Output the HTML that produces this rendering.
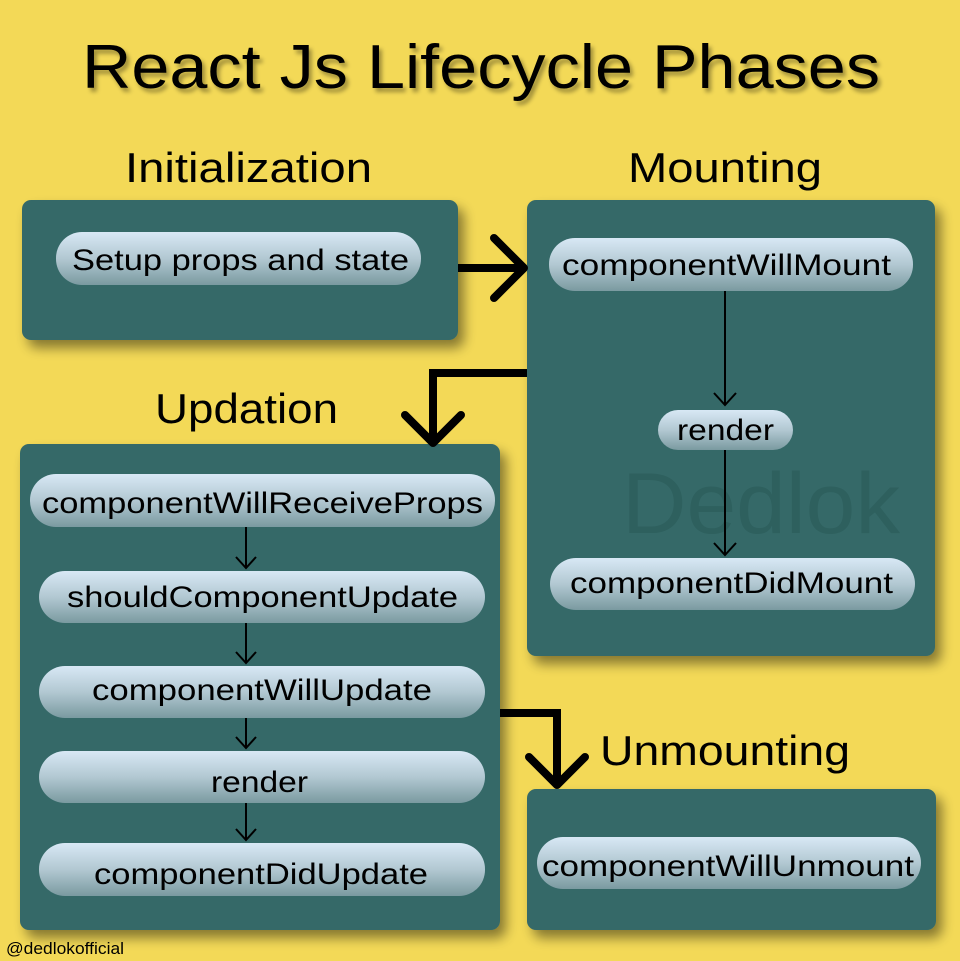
<!DOCTYPE html>
<html><head><meta charset="utf-8"><style>
html,body{margin:0;padding:0;background:#f3d957;}
svg{display:block}
text{font-family:"Liberation Sans",sans-serif;fill:#000}
</style></head><body>
<svg width="960" height="961" viewBox="0 0 960 961" xmlns="http://www.w3.org/2000/svg">
<defs>
<linearGradient id="pg" x1="0" y1="0" x2="0" y2="1">
<stop offset="0" stop-color="#d8e8f5"/>
<stop offset="0.5" stop-color="#b2c8d2"/>
<stop offset="1" stop-color="#7a9aa0"/>
</linearGradient>
<filter id="sh" x="-10%" y="-10%" width="130%" height="130%">
<feGaussianBlur in="SourceAlpha" stdDeviation="6"/>
<feOffset dx="6" dy="8" result="b"/>
<feComponentTransfer><feFuncA type="linear" slope="0.45"/></feComponentTransfer>
<feMerge><feMergeNode/><feMergeNode in="SourceGraphic"/></feMerge>
</filter>
<filter id="ts"><feGaussianBlur in="SourceAlpha" stdDeviation="2"/><feOffset dx="3" dy="4"/><feComponentTransfer><feFuncA type="linear" slope="0.35"/></feComponentTransfer><feMerge><feMergeNode/><feMergeNode in="SourceGraphic"/></feMerge></filter>
</defs>
<rect width="960" height="961" fill="#f3d957"/>
<text x="82" y="88" font-size="62" textLength="798" lengthAdjust="spacingAndGlyphs" filter="url(#ts)">React Js Lifecycle Phases</text>
<text x="125" y="182" font-size="42" textLength="247" lengthAdjust="spacingAndGlyphs">Initialization</text>
<text x="628" y="182" font-size="42" textLength="194" lengthAdjust="spacingAndGlyphs">Mounting</text>
<text x="155" y="423" font-size="42" textLength="183" lengthAdjust="spacingAndGlyphs">Updation</text>
<text x="600" y="765" font-size="42" textLength="250" lengthAdjust="spacingAndGlyphs">Unmounting</text>

<g fill="#356967" filter="url(#sh)">
<rect x="22" y="200" width="436" height="140" rx="9"/>
<rect x="527" y="200" width="408" height="456" rx="9"/>
<rect x="20" y="444" width="480" height="486" rx="9"/>
<rect x="527" y="789" width="409" height="141" rx="9"/>
</g>
<text x="622" y="533" font-size="86" fill="#2d5f5d" style="fill:#2e605e" textLength="278" lengthAdjust="spacingAndGlyphs">Dedlok</text>

<g fill="url(#pg)">
<rect x="56" y="232" width="365" height="53" rx="26"/>
<rect x="549" y="238" width="364" height="53" rx="26"/>
<rect x="658" y="410" width="135" height="40" rx="20"/>
<rect x="550" y="558" width="365" height="52" rx="26"/>
<rect x="30" y="474" width="465" height="53" rx="26"/>
<rect x="39" y="571" width="446" height="52" rx="26"/>
<rect x="39" y="666" width="446" height="52" rx="26"/>
<rect x="39" y="751" width="446" height="52" rx="26"/>
<rect x="39" y="843" width="446" height="53" rx="26"/>
<rect x="537" y="837" width="384" height="52" rx="26"/>
</g>
<g font-size="30">
<text x="72" y="270" textLength="337" lengthAdjust="spacingAndGlyphs">Setup props and state</text>
<text x="562" y="275" textLength="329" lengthAdjust="spacingAndGlyphs">componentWillMount</text>
<text x="677" y="440" textLength="97" lengthAdjust="spacingAndGlyphs">render</text>
<text x="570" y="593" textLength="323" lengthAdjust="spacingAndGlyphs">componentDidMount</text>
<text x="42" y="513" textLength="441" lengthAdjust="spacingAndGlyphs">componentWillReceiveProps</text>
<text x="67" y="607" textLength="391" lengthAdjust="spacingAndGlyphs">shouldComponentUpdate</text>
<text x="92" y="700" textLength="340" lengthAdjust="spacingAndGlyphs">componentWillUpdate</text>
<text x="211" y="792" textLength="97" lengthAdjust="spacingAndGlyphs">render</text>
<text x="94" y="884" textLength="334" lengthAdjust="spacingAndGlyphs">componentDidUpdate</text>
<text x="542" y="876" textLength="372" lengthAdjust="spacingAndGlyphs">componentWillUnmount</text>
</g>

<g stroke="#000" fill="none" stroke-width="2">
<line x1="725" y1="291" x2="725" y2="405"/><polyline points="714,393 725,405 736,393"/>
<line x1="725" y1="450" x2="725" y2="555"/><polyline points="714,543 725,555 736,543"/>
<line x1="246" y1="527" x2="246" y2="568"/><polyline points="236,557 246,568 256,557"/>
<line x1="246" y1="623" x2="246" y2="663"/><polyline points="236,652 246,663 256,652"/>
<line x1="246" y1="718" x2="246" y2="748"/><polyline points="236,737 246,748 256,737"/>
<line x1="246" y1="803" x2="246" y2="840"/><polyline points="236,829 246,840 256,829"/>
</g>
<g stroke="#000" fill="none" stroke-width="8" stroke-linecap="round" stroke-linejoin="miter">
<line x1="458" y1="268" x2="522" y2="268" stroke-linecap="butt"/>
<polyline points="494,238 524,268 494,298" stroke-linejoin="round"/>
<polyline points="527,373 433,373 433,440" stroke-linecap="butt"/>
<polyline points="405,415 433,443 461,415" stroke-linejoin="round"/>
<polyline points="500,713 557,713 557,782" stroke-linecap="butt"/>
<polyline points="529,757 557,785 585,757" stroke-linejoin="round"/>
</g>
<text x="6" y="954" font-size="17" textLength="118" lengthAdjust="spacingAndGlyphs">@dedlokofficial</text>
</svg>
</body></html>
